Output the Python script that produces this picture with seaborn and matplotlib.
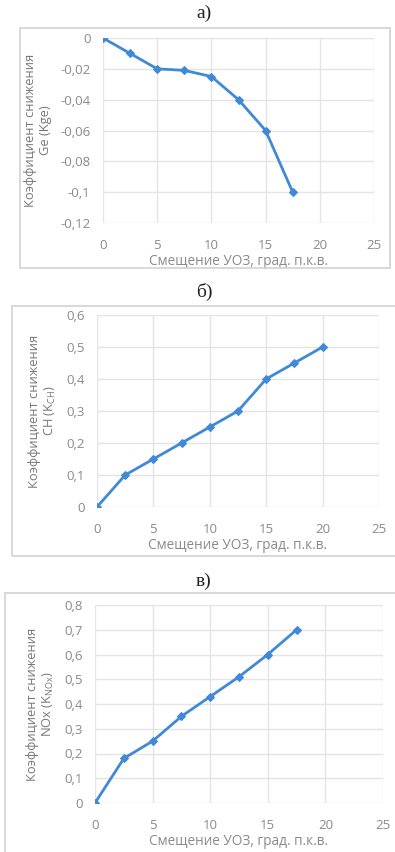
import matplotlib
matplotlib.use("Agg")
import matplotlib.pyplot as plt
import seaborn as sns
import pandas as pd
from matplotlib.patches import Rectangle
from matplotlib.ticker import FuncFormatter

# ---- data ----
x_a = [0, 2.5, 5, 7.5, 10, 12.5, 15, 17.5]
ge_vals = [0, -0.01, -0.02, -0.021, -0.025, -0.04, -0.06, -0.1]
x_b = [0, 2.5, 5, 7.5, 10, 12.5, 15, 17.5, 20]
ch_vals = [0, 0.1, 0.15, 0.2, 0.25, 0.3, 0.4, 0.45, 0.5]
x_c = [0, 2.5, 5, 7.5, 10, 12.5, 15, 17.5]
nox_vals = [0, 0.18, 0.25, 0.35, 0.43, 0.51, 0.6, 0.7]

xticks = [0, 5, 10, 15, 20, 25]
yticks_a = [0, -0.02, -0.04, -0.06, -0.08, -0.1, -0.12]
yticks_b = [0, 0.1, 0.2, 0.3, 0.4, 0.5, 0.6]
yticks_c = [0, 0.1, 0.2, 0.3, 0.4, 0.5, 0.6, 0.7, 0.8]

titles = ["а)", "б)", "в)"]
xlabel = "Смещение УОЗ, град. п.к.в."
ylabels = ["Коэффициент снижения\nGe (Kge)",
           "Коэффициент снижения\nCH (K$_{\\mathregular{CH}}$)",
           "Коэффициент снижения\nNOx (K$_{\\mathregular{NOx}}$)"]

sns.set_theme(style="white")
plt.rcParams["font.family"] = ["Open Sans", "DejaVu Sans"]

W, H = 395, 852
fig = plt.figure(figsize=(W / 100, H / 100), dpi=100)

LINE = "#3f89d6"
GRID = "#e4e4e4"
TXT = "#8a8a8a"

def fmt(v, pos):
    s = ("%g" % round(v, 4)).replace(".", ",")
    return s

panels = [
    # plot px: left, right, top, bottom ; box px: left, top, right, bottom ; title y
    dict(x=x_a, y=ge_vals, yt=yticks_a, ylim=(-0.12, 0), p=(103, 374, 38, 223), box=(20, 28, 390, 268), ty=13),
    dict(x=x_b, y=ch_vals, yt=yticks_b, ylim=(0, 0.6), p=(97, 379, 315, 507), box=(12, 306, 400, 556), ty=292),
    dict(x=x_c, y=nox_vals, yt=yticks_c, ylim=(0, 0.8), p=(95, 383, 605, 803), box=(5, 593, 400, 860), ty=581),
]

for i, pn in enumerate(panels):
    l, r, t, b = pn["p"]
    bl, bt, br, bb = pn["box"]
    fig.patches.append(Rectangle((bl / W, 1 - bb / H), (br - bl) / W, (bb - bt) / H,
                                 transform=fig.transFigure, fill=False,
                                 edgecolor="#d2d2d2", linewidth=1.2))
    fig.text(204 / W, 1 - pn["ty"] / H, titles[i], ha="center", va="center",
             fontsize=14, family=["Liberation Serif", "DejaVu Serif"], color="#222222")
    ax = fig.add_axes([l / W, 1 - b / H, (r - l) / W, (b - t) / H])
    df = pd.DataFrame({"x": pn["x"], "y": pn["y"]})
    sns.lineplot(data=df, x="x", y="y", ax=ax, color=LINE, linewidth=2,
                 marker="D", markersize=4, markeredgecolor=LINE)
    ax.set_xlim(0, 25)
    ax.set_ylim(*pn["ylim"])
    ax.set_xticks(xticks)
    ax.set_yticks(pn["yt"])
    ax.xaxis.set_major_formatter(FuncFormatter(fmt))
    ax.yaxis.set_major_formatter(FuncFormatter(fmt))
    ax.grid(True, color=GRID, linewidth=1)
    ax.set_axisbelow(True)
    for s in ax.spines.values():
        s.set_visible(False)
    ax.tick_params(axis="x", length=0, labelsize=9.5, labelcolor=TXT, pad=11.5)
    ax.tick_params(axis="y", length=0, labelsize=9.5, labelcolor=TXT, pad=9)
    ax.set_xlabel(xlabel, fontsize=9.8, color=TXT, labelpad=1.5)
    ax.set_ylabel(ylabels[i], fontsize=9.3, color="#777777", labelpad=6, linespacing=1.15)
    ax.patch.set_alpha(0)

fig.savefig("out.png", dpi=100)
